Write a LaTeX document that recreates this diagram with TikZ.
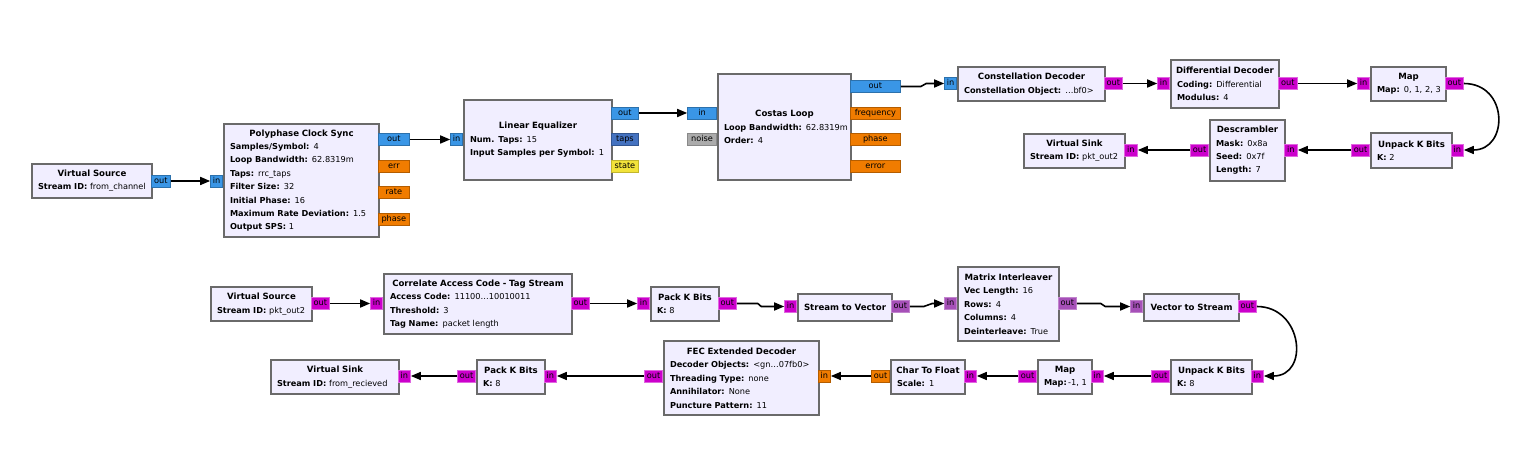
\documentclass[tikz,border=0pt]{standalone}
\usepackage{fontspec}
\setmainfont{DejaVu Sans}
\usetikzlibrary{arrows.meta}

\definecolor{blkfill}{HTML}{F1EEFF}
\definecolor{blkedge}{HTML}{6A6A6A}
\definecolor{cpxclr}{HTML}{3A96E6}
\definecolor{fltclr}{HTML}{F07C00}
\definecolor{bytclr}{HTML}{CC00CC}
\definecolor{vbytclr}{HTML}{A650B8}
\definecolor{tapclr}{HTML}{4472C0}
\definecolor{stateclr}{HTML}{F2E33A}
\definecolor{msgclr}{HTML}{ABABAB}

\newcommand{\ttl}[1]{\makebox[\linewidth]{\fontsize{8.6}{13.4}\selectfont\bfseries #1}}
\newcommand{\prm}[2]{\mbox{\textbf{#1:} #2}}

\begin{document}
\begin{tikzpicture}[x = 1pt, y = -1pt,
    block/.style = {draw = blkedge, fill = blkfill, line width = 2pt, inner xsep = 6pt, inner ysep = 0pt, align = left, anchor = north west, font = \fontsize{8.2}{13.4}\selectfont},
    port/.style = {line width = 0.8pt, inner sep = 0pt, minimum height = 12pt, text height = 6.2pt, text depth = 1.8pt, font = \fontsize{8.2}{10}\selectfont},
    cpx/.style = {port, fill = cpxclr, draw = cpxclr!75!black},
    flt/.style = {port, fill = fltclr, draw = fltclr!75!black},
    byt/.style = {port, fill = bytclr, draw = bytclr!60!white},
    vbyt/.style = {port, fill = vbytclr, draw = vbytclr!70!white},
    tap/.style = {port, fill = tapclr, draw = tapclr!75!black},
    stt/.style = {port, fill = stateclr, draw = stateclr!80!black},
    msg/.style = {port, fill = msgclr, draw = msgclr!80!black},
    wire/.style = {-{Triangle[length = 10pt, width = 8pt]}, line width = 1.6pt}]

    \useasboundingbox (0, 0) rectangle (1521, 457);

% Blocks, receive chain
    \node[block, text width = 108pt, minimum height = 34pt] (vsrcA) at (31, 163) {\ttl{Virtual Source}\\ \prm{Stream ID}{from\_channel}};
    \node[block, text width = 143pt, minimum height = 113pt] (pcs) at (223, 123) {\ttl{Polyphase Clock Sync}\\ \prm{Samples/Symbol}{4}\\ \prm{Loop Bandwidth}{62.8319m}\\ \prm{Taps}{rrc\_taps}\\ \prm{Filter Size}{32}\\ \prm{Initial Phase}{16}\\ \prm{Maximum Rate Deviation}{1.5}\\ \prm{Output SPS}{1}};
    \node[block, text width = 136pt, minimum height = 80pt] (leq) at (463, 99) {\ttl{Linear Equalizer}\\ \prm{Num. Taps}{15}\\ \prm{Input Samples per Symbol}{1}};
    \node[block, text width = 121pt, minimum height = 106pt] (costas) at (717, 73) {\ttl{Costas Loop}\\ \prm{Loop Bandwidth}{62.8319m}\\ \prm{Order}{4}};
    \node[block, text width = 135pt, minimum height = 34pt] (cdec) at (957, 66) {\ttl{Constellation Decoder}\\ \prm{Constellation Object}{…bf0>}};
    \node[block, text width = 96pt, minimum height = 48pt] (ddec) at (1170, 59) {\ttl{Differential Decoder}\\ \prm{Coding}{Differential}\\ \prm{Modulus}{4}};
    \node[block, text width = 63pt, minimum height = 34pt] (mapA) at (1370, 66) {\ttl{Map}\\ \prm{Map}{0, 1, 2, 3}};
    \node[block, text width = 69pt, minimum height = 35pt] (unpA) at (1370, 132) {\ttl{Unpack K Bits}\\ \prm{K}{2}};
    \node[block, text width = 63pt, minimum height = 61pt] (dscr) at (1209, 119) {\ttl{Descrambler}\\ \prm{Mask}{0x8a}\\ \prm{Seed}{0x7f}\\ \prm{Length}{7}};
    \node[block, text width = 89pt, minimum height = 34pt] (vsnkA) at (1023, 133) {\ttl{Virtual Sink}\\ \prm{Stream ID}{pkt\_out2}};

% Blocks, decode chain
    \node[block, text width = 89pt, minimum height = 34pt] (vsrcB) at (210, 286) {\ttl{Virtual Source}\\ \prm{Stream ID}{pkt\_out2}};
    \node[block, text width = 176pt, minimum height = 60pt] (corr) at (383, 273) {\ttl{Correlate Access Code - Tag Stream}\\ \prm{Access Code}{11100…10010011}\\ \prm{Threshold}{3}\\ \prm{Tag Name}{packet length}};
    \node[block, text width = 56pt, minimum height = 34pt] (packA) at (650, 286) {\ttl{Pack K Bits}\\ \prm{K}{8}};
    \node[block, text width = 82pt, minimum height = 27pt] (s2v) at (797, 293) {\ttl{Stream to Vector}};
    \node[block, text width = 89pt, minimum height = 74pt] (mtx) at (957, 266) {\ttl{Matrix Interleaver}\\ \prm{Vec Length}{16}\\ \prm{Rows}{4}\\ \prm{Columns}{4}\\ \prm{Deinterleave}{True}};
    \node[block, text width = 83pt, minimum height = 27pt] (v2s) at (1143, 293) {\ttl{Vector to Stream}};
    \node[block, text width = 69pt, minimum height = 34pt] (unpB) at (1170, 359) {\ttl{Unpack K Bits}\\ \prm{K}{8}};
    \node[block, text width = 42pt, minimum height = 34pt] (mapB) at (1037, 359) {\ttl{Map}\\ \mbox{\textbf{Map:}\,-1, 1}};
    \node[block, text width = 62pt, minimum height = 34pt] (c2f) at (890, 359) {\ttl{Char To Float}\\ \prm{Scale}{1}};
    \node[block, text width = 143pt, minimum height = 74pt] (fec) at (663, 340) {\ttl{FEC Extended Decoder}\\ \prm{Decoder Objects}{<gn…07fb0>}\\ \prm{Threading Type}{none}\\ \prm{Annihilator}{None}\\ \prm{Puncture Pattern}{11}};
    \node[block, text width = 56pt, minimum height = 34pt] (packB) at (476, 359) {\ttl{Pack K Bits}\\ \prm{K}{8}};
    \node[block, text width = 116pt, minimum height = 34pt] (vsnkB) at (270, 359) {\ttl{Virtual Sink}\\ \prm{Stream ID}{from\_recieved}};

% Ports, receive chain
    \node[cpx, minimum width = 19pt, anchor = west] (vsrcA-out) at (151, 181) {out};
    \node[cpx, minimum width = 12pt, anchor = east] (pcs-in) at (223, 181) {in};
    \node[cpx, minimum width = 31pt, anchor = west] (pcs-out) at (378, 139.5) {out};
    \node[flt, minimum width = 31pt, anchor = west] (pcs-err) at (378, 166) {err};
    \node[flt, minimum width = 31pt, anchor = west] (pcs-rate) at (378, 192.5) {rate};
    \node[flt, minimum width = 31pt, anchor = west] (pcs-phase) at (378, 219) {phase};
    \node[cpx, minimum width = 12pt, anchor = east] (leq-in) at (463, 139.5) {in};
    \node[cpx, minimum width = 27pt, anchor = west] (leq-out) at (611, 113) {out};
    \node[tap, minimum width = 27pt, anchor = west] (leq-taps) at (611, 139.5) {taps};
    \node[stt, minimum width = 27pt, anchor = west] (leq-state) at (611, 166) {state};
    \node[cpx, minimum width = 29pt, anchor = east] (costas-in) at (717, 113) {in};
    \node[msg, minimum width = 29pt, anchor = east] (costas-noise) at (717, 139.5) {noise};
    \node[cpx, minimum width = 50pt, anchor = west] (costas-out) at (850, 86.5) {out};
    \node[flt, minimum width = 50pt, anchor = west] (costas-freq) at (850, 113) {frequency};
    \node[flt, minimum width = 50pt, anchor = west] (costas-phase) at (850, 139.5) {phase};
    \node[flt, minimum width = 50pt, anchor = west] (costas-error) at (850, 166) {error};
    \node[cpx, minimum width = 12pt, anchor = east] (cdec-in) at (957, 83.5) {in};
    \node[byt, minimum width = 18pt, anchor = west] (cdec-out) at (1104, 83.5) {out};
    \node[byt, minimum width = 12pt, anchor = east] (ddec-in) at (1170, 83.5) {in};
    \node[byt, minimum width = 19pt, anchor = west] (ddec-out) at (1278, 83.5) {out};
    \node[byt, minimum width = 12pt, anchor = east] (mapA-in) at (1370, 83.5) {in};
    \node[byt, minimum width = 18pt, anchor = west] (mapA-out) at (1445, 83.5) {out};
    \node[byt, minimum width = 12pt, anchor = west] (unpA-in) at (1451, 150) {in};
    \node[byt, minimum width = 18pt, anchor = east] (unpA-out) at (1370, 150) {out};
    \node[byt, minimum width = 13pt, anchor = west] (dscr-in) at (1284, 150) {in};
    \node[byt, minimum width = 18pt, anchor = east] (dscr-out) at (1209, 150) {out};
    \node[byt, minimum width = 13pt, anchor = west] (vsnkA-in) at (1124, 150) {in};

% Ports, decode chain
    \node[byt, minimum width = 18pt, anchor = west] (vsrcB-out) at (311, 303.5) {out};
    \node[byt, minimum width = 12pt, anchor = east] (corr-in) at (383, 303.5) {in};
    \node[byt, minimum width = 18pt, anchor = west] (corr-out) at (571, 303.5) {out};
    \node[byt, minimum width = 12pt, anchor = east] (packA-in) at (650, 303.5) {in};
    \node[byt, minimum width = 18pt, anchor = west] (packA-out) at (718, 303.5) {out};
    \node[byt, minimum width = 12pt, anchor = east] (s2v-in) at (797, 306.5) {in};
    \node[vbyt, minimum width = 18pt, anchor = west] (s2v-out) at (891, 306.5) {out};
    \node[vbyt, minimum width = 12pt, anchor = east] (mtx-in) at (957, 303.5) {in};
    \node[vbyt, minimum width = 18pt, anchor = west] (mtx-out) at (1058, 303.5) {out};
    \node[vbyt, minimum width = 12pt, anchor = east] (v2s-in) at (1143, 306.5) {in};
    \node[byt, minimum width = 18pt, anchor = west] (v2s-out) at (1238, 306.5) {out};
    \node[byt, minimum width = 12pt, anchor = west] (unpB-in) at (1251, 376) {in};
    \node[byt, minimum width = 18pt, anchor = east] (unpB-out) at (1170, 376) {out};
    \node[byt, minimum width = 12pt, anchor = west] (mapB-in) at (1091, 376) {in};
    \node[byt, minimum width = 18pt, anchor = east] (mapB-out) at (1037, 376) {out};
    \node[byt, minimum width = 12pt, anchor = west] (c2f-in) at (964, 376) {in};
    \node[flt, minimum width = 18pt, anchor = east] (c2f-out) at (890, 376) {out};
    \node[flt, minimum width = 12pt, anchor = west] (fec-in) at (818, 376) {in};
    \node[byt, minimum width = 18pt, anchor = east] (fec-out) at (663, 376) {out};
    \node[byt, minimum width = 12pt, anchor = west] (packB-in) at (544, 376) {in};
    \node[byt, minimum width = 18pt, anchor = east] (packB-out) at (476, 376) {out};
    \node[byt, minimum width = 12pt, anchor = west] (vsnkB-in) at (398, 376) {in};

% Connections, receive chain
    \draw[wire] (vsrcA-out) -- (pcs-in);
    \draw[wire] (pcs-out) -- (leq-in);
    \draw[wire] (leq-out) -- (costas-in);
    \draw[wire] (costas-out.east) -- ++(20, 0) -- ([xshift = -18pt] cdec-in.west) -- (cdec-in.west);
    \draw[wire] (cdec-out) -- (ddec-in);
    \draw[wire] (ddec-out) -- (mapA-in);
    \draw[wire] (mapA-out.east) .. controls +(45, 0) and +(45, 0) .. (unpA-in.east);
    \draw[wire] (unpA-out) -- (dscr-in);
    \draw[wire] (dscr-out) -- (vsnkA-in);

% Connections, decode chain
    \draw[wire] (vsrcB-out) -- (corr-in);
    \draw[wire] (corr-out) -- (packA-in);
    \draw[wire] (packA-out.east) -- ++(21, 0) -- ([xshift = -23pt] s2v-in.west) -- (s2v-in.west);
    \draw[wire] (s2v-out.east) -- ++(14, 0) -- ([xshift = -12pt] mtx-in.west) -- (mtx-in.west);
    \draw[wire] (mtx-out.east) -- ++(24, 0) -- ([xshift = -25pt] v2s-in.west) -- (v2s-in.west);
    \draw[wire] (v2s-out.east) .. controls +(46, 0) and +(46, 0) .. (unpB-in.east);
    \draw[wire] (unpB-out) -- (mapB-in);
    \draw[wire] (mapB-out) -- (c2f-in);
    \draw[wire] (c2f-out) -- (fec-in);
    \draw[wire] (fec-out) -- (packB-in);
    \draw[wire] (packB-out) -- (vsnkB-in);

\end{tikzpicture}
\end{document}
